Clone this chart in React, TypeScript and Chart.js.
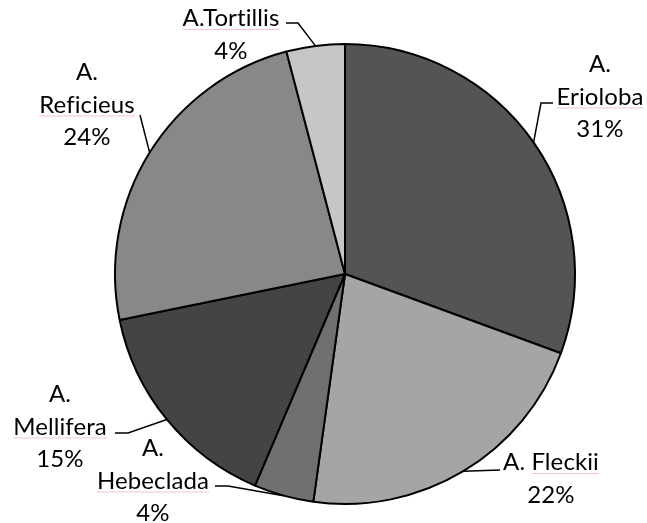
import React, { useEffect, useRef } from "react";
import { Chart, registerables } from "chart.js";

Chart.register(...registerables);

const names = ["A. Erioloba", "A. Fleckii", "A. Hebeclada", "A. Mellifera", "A. Reficieus", "A.Tortillis"];
const values = [30.6, 21.6, 4.2, 15.4, 24.1, 4.1];
const colors = ["#545454", "#a5a5a5", "#707070", "#444444", "#888888", "#c6c6c6"];

// label text lines (the last line is the percentage, computed from values)
const labelLines = [
  ["A.", "Erioloba"],
  ["A. Fleckii"],
  ["A.", "Hebeclada"],
  ["A.", "Mellifera"],
  ["A.", "Reficieus"],
  ["A.Tortillis"],
];
// words that carry the faint spell-check underline
const underlined = ["Erioloba", "Fleckii", "Hebeclada", "Mellifera", "Reficieus", "A.Tortillis"];

// label layout: centre x, first baseline y, leader points before reaching the slice
const labelLayout = [
  { x: 600, y: 72, leader: [[553, 103], [541, 103]] },
  { x: 551, y: 470, leader: [[500, 470]] },
  { x: 153, y: 456, leader: [[215, 486], [228, 486]] },
  { x: 60, y: 402, leader: [[115, 433], [128, 433]] },
  { x: 87, y: 80, leader: [[140, 115]] },
  { x: 231, y: 26, leader: [[286, 23], [298, 23]] },
];

const FONT = "24px Lato, 'Open Sans', sans-serif";
const LINE_H = 32.5;

const labelPlugin = {
  id: "pieLabels",
  afterDatasetsDraw(chart: any) {
    const ctx = chart.ctx;
    const meta = chart.getDatasetMeta(0);
    const total = values.reduce((a, b) => a + b, 0);
    ctx.save();
    ctx.font = FONT;
    try { (ctx as any).letterSpacing = "0.1px"; } catch (e) {}
    ctx.textAlign = "center";
    ctx.textBaseline = "alphabetic";
    meta.data.forEach((arc: any, i: number) => {
      const lay = labelLayout[i];
      const lines = [...labelLines[i], Math.round((values[i] / total) * 100) + "%"];
      lines.forEach((ln, k) => {
        const by = lay.y + k * LINE_H;
        ctx.fillStyle = "#000";
        ctx.fillText(ln, lay.x, by);
        const w = underlined[i];
        const idx = ln.indexOf(w);
        if (idx >= 0) {
          const full = ctx.measureText(ln).width;
          const pre = ctx.measureText(ln.slice(0, idx)).width;
          const ww = ctx.measureText(w).width;
          const x0 = lay.x - full / 2 + pre;
          ctx.strokeStyle = "rgba(235,150,150,0.55)";
          ctx.lineWidth = 1;
          ctx.beginPath();
          ctx.moveTo(x0, by + 3.5);
          ctx.lineTo(x0 + ww, by + 3.5);
          ctx.stroke();
        }
      });
      const p = arc.getProps(["x", "y", "startAngle", "endAngle", "outerRadius"], true);
      const mid = (p.startAngle + p.endAngle) / 2;
      const ex = p.x + Math.cos(mid) * p.outerRadius;
      const ey = p.y + Math.sin(mid) * p.outerRadius;
      ctx.strokeStyle = "#000";
      ctx.lineWidth = 1.5;
      ctx.beginPath();
      lay.leader.forEach((pt, k) => {
        if (k === 0) ctx.moveTo(pt[0], pt[1]);
        else ctx.lineTo(pt[0], pt[1]);
      });
      ctx.lineTo(ex, ey);
      ctx.stroke();
    });
    ctx.restore();
  },
};

export default function App() {
  const ref = useRef<HTMLCanvasElement>(null);
  useEffect(() => {
    if (!ref.current) return;
    const chart = new Chart(ref.current, {
      type: "pie",
      data: {
        labels: names,
        datasets: [
          {
            data: values,
            backgroundColor: colors,
            borderColor: "#000",
            borderWidth: 2,
          },
        ],
      },
      options: {
        responsive: false,
        animation: false,
        layout: { padding: { left: 114, right: 71, top: 43, bottom: 18 } },
        plugins: { legend: { display: false }, tooltip: { enabled: false } },
      },
      plugins: [labelPlugin],
    });
    return () => chart.destroy();
  }, []);
  return (
    <div style={{ position: "fixed", left: 0, top: 0, width: 647, height: 523, background: "#fff" }}>
      <canvas ref={ref} width={647} height={523} />
    </div>
  );
}
